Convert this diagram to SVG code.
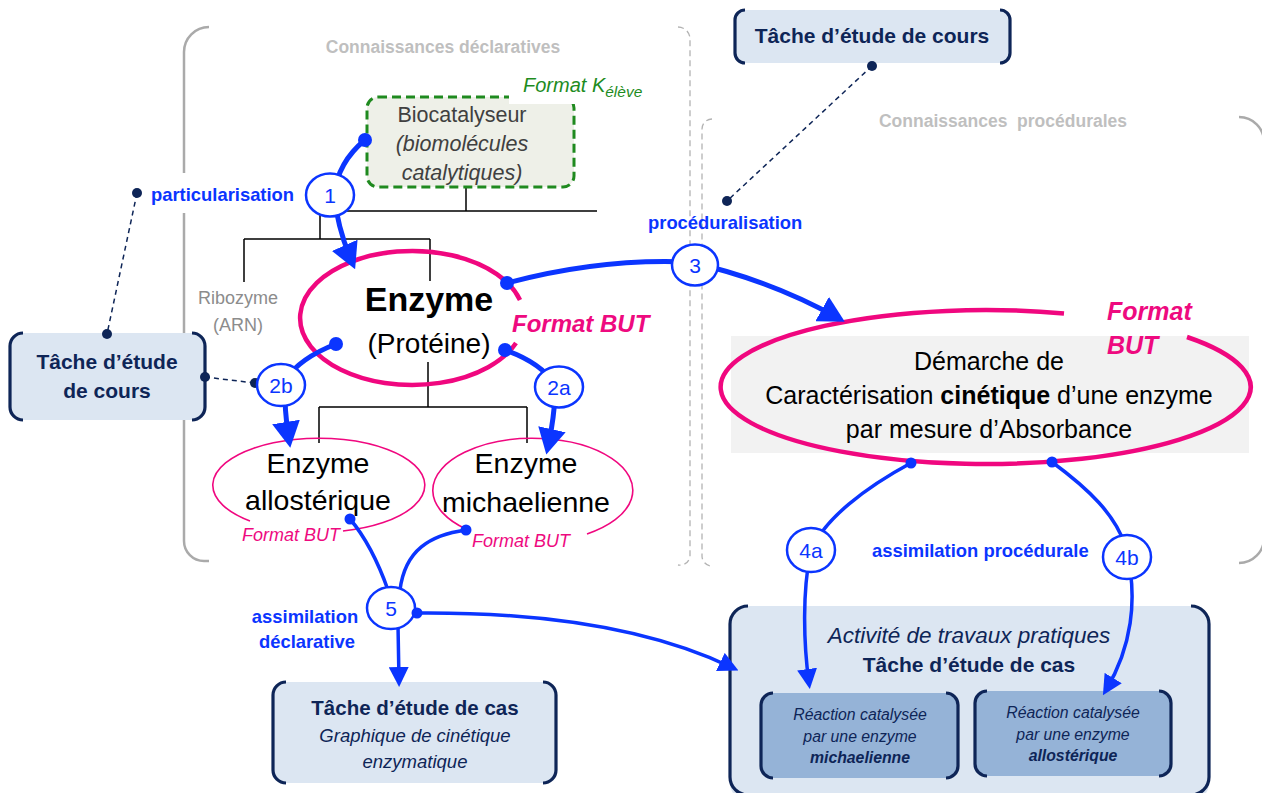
<svg xmlns="http://www.w3.org/2000/svg" width="1262" height="793" viewBox="0 0 1262 793">
<defs>
<style>
text{font-family:"Liberation Sans",Arial,sans-serif}
.bl{fill:#0b35ff;font-weight:bold;font-size:18.4px}
.num{fill:#0b35ff;font-size:21px;text-anchor:middle}
.circ{fill:#fff;stroke:#0b35ff;stroke-width:2.5}
.thick{fill:none;stroke:#0b35ff;stroke-width:5;stroke-linecap:round}
.thin{fill:none;stroke:#0b35ff;stroke-width:3.5;stroke-linecap:round}
.dot{fill:#0b35ff}
.ndot{fill:#0e2557}
.ndash{stroke:#0e2557;stroke-width:1.5;stroke-dasharray:5 4;fill:none}
.tree{stroke:#000;stroke-width:1.5;fill:none}
.gb{stroke:#aaa;stroke-width:2.5;fill:none}
.gd{stroke:#b3b3b3;stroke-width:1.3;stroke-dasharray:6 4;fill:none}
.boxf{fill:#dce6f2}
.boxi{fill:#95b3d7}
.brk{fill:none;stroke:#0e2557;stroke-width:3.2}
.nt{fill:#0e2557;text-anchor:middle}
.pkb{fill:none;stroke:#f0077f;stroke-width:4.5}
.pks{fill:none;stroke:#f0077f;stroke-width:1.6}
.fmt{fill:#ee0a7f;font-style:italic}
.ct{fill:#000;text-anchor:middle}
.gray{fill:#bfbfbf;font-weight:bold;font-size:17.5px;text-anchor:middle;white-space:pre}
</style>
<marker id="ab" markerUnits="userSpaceOnUse" markerWidth="26" markerHeight="28" viewBox="0 0 10 10" refX="7" refY="5" orient="auto" preserveAspectRatio="none"><path d="M0,0 L10,5 L0,10 z" fill="#0b35ff"/></marker>
<marker id="as" markerUnits="userSpaceOnUse" markerWidth="20" markerHeight="20" viewBox="0 0 10 10" refX="7" refY="5" orient="auto" preserveAspectRatio="none"><path d="M0,0 L10,5 L0,10 z" fill="#0b35ff"/></marker>
</defs>
<rect width="1262" height="793" fill="#fff"/>

<g id="brackets">
<path class="gb" d="M209 27 A25 25 0 0 0 184 52 V173 M184 213 V541 A20 20 0 0 0 204 561 H209"/>
<path class="gd" d="M678 27 A12 12 0 0 1 690 39 V556 A10 10 0 0 1 678 565"/>
<path class="gd" d="M712 119 A10 10 0 0 0 702 129 V556 A10 10 0 0 0 713 566"/>
<path class="gb" d="M1239 117 A25 25 0 0 1 1264 142 V538 A25 25 0 0 1 1239 563"/>
<text class="gray" x="443" y="53">Connaissances déclaratives</text>
<text class="gray" x="1003" y="127">Connaissances  procédurales</text>
</g>

<g id="tree">
<path class="tree" d="M466 187 V211 M320 211 H597 M320 211 V239 M244 239 H430 M244 239 V282 M430 239 V281 M428 362 V407 M319 407 H527 M319 407 V443 M527 407 V443"/>
</g>

<g id="biocatalyseur">
<rect x="367" y="97" width="207" height="90" rx="11" fill="#eef0e8" stroke="#1f8a1f" stroke-width="3" stroke-dasharray="9 5"/>
<rect x="509" y="68" width="148" height="36" fill="#fff"/>
<text x="462" y="122" fill="#404040" font-size="21.5" text-anchor="middle">Biocatalyseur</text>
<text x="462" y="151" fill="#404040" font-size="21.5" font-style="italic" text-anchor="middle">(biomolécules</text>
<text x="462" y="180" fill="#404040" font-size="21.5" font-style="italic" text-anchor="middle">catalytiques)</text>
<text x="523" y="92" fill="#1e8c1e" font-size="20" font-style="italic">Format K<tspan font-size="15.5" dy="5">élève</tspan></text>
</g>

<g id="ribozyme">
<text x="238" y="304" fill="#8c8c8c" font-size="18" text-anchor="middle">Ribozyme</text>
<text x="238" y="331" fill="#8c8c8c" font-size="18" text-anchor="middle">(ARN)</text>
</g>

<g id="enzyme">
<path class="pkb" d="M520 300 A112 67 0 1 0 516 343"/>
<text class="ct" x="429" y="311" font-size="34" font-weight="bold">Enzyme</text>
<text class="ct" x="429" y="353" font-size="28">(Protéine)</text>
<text class="fmt" x="512" y="332" font-size="24" font-weight="bold">Format BUT</text>
</g>

<g id="allosterique">
<path class="pks" d="M343 531 A106 47 0 1 0 250 521"/>
<text class="ct" x="318" y="473" font-size="28.5">Enzyme</text>
<text class="ct" x="318" y="510" font-size="28.5">allostérique</text>
<text class="fmt" x="242" y="541" font-size="18">Format BUT</text>
</g>

<g id="michaelienne">
<path class="pks" d="M587 534 A100 52 0 1 0 466 529"/>
<text class="ct" x="526" y="473" font-size="28.5">Enzyme</text>
<text class="ct" x="526" y="512" font-size="28.5">michaelienne</text>
<text class="fmt" x="472" y="547" font-size="18">Format BUT</text>
</g>

<g id="demarche">
<rect x="731" y="336" width="518" height="117" fill="#f2f2f2"/>
<path class="pkb" d="M1064 313.5 A265 77 0 1 0 1187 337"/>
<text class="ct" x="989" y="370" font-size="25">Démarche de</text>
<text class="ct" x="989" y="404" font-size="25">Caractérisation <tspan font-weight="bold">cinétique</tspan> d’une enzyme</text>
<text class="ct" x="989" y="438" font-size="25">par mesure d’Absorbance</text>
<text class="fmt" x="1107" y="320" font-size="25" font-weight="bold">Format</text>
<text class="fmt" x="1107" y="354" font-size="25" font-weight="bold">BUT</text>
</g>

<g id="tache-cours-top">
<rect class="boxf" x="735" y="10" width="275" height="53" rx="10"/>
<path class="brk" d="M745 10 A10 10 0 0 0 735 20 V53 A10 10 0 0 0 745 63 M1000 10 A10 10 0 0 1 1010 20 V53 A10 10 0 0 1 1000 63"/>
<text class="nt" x="872" y="43" font-size="21" font-weight="bold">Tâche d’étude de cours</text>
</g>

<g id="tache-cours-left">
<rect class="boxf" x="10" y="333" width="195" height="87" rx="13"/>
<path class="brk" d="M23 333 A13 13 0 0 0 10 346 V407 A13 13 0 0 0 23 420 M192 333 A13 13 0 0 1 205 346 V407 A13 13 0 0 1 192 420"/>
<text class="nt" x="107" y="369" font-size="21" font-weight="bold">Tâche d’étude</text>
<text class="nt" x="107" y="398" font-size="21" font-weight="bold">de cours</text>
</g>

<g id="tache-cas">
<rect class="boxf" x="273" y="682" width="283" height="101" rx="13"/>
<path class="brk" d="M286 682 A13 13 0 0 0 273 695 V770 A13 13 0 0 0 286 783 M543 682 A13 13 0 0 1 556 695 V770 A13 13 0 0 1 543 783"/>
<text class="nt" x="415" y="715" font-size="20.5" font-weight="bold">Tâche d’étude de cas</text>
<text class="nt" x="415" y="742" font-size="18.5" font-style="italic">Graphique de cinétique</text>
<text class="nt" x="415" y="768" font-size="18.5" font-style="italic">enzymatique</text>
</g>

<g id="activite-tp">
<rect class="boxf" x="730" y="606" width="479" height="195" rx="18"/>
<path class="brk" d="M748 606 A18 18 0 0 0 730 624 V777 A18 18 0 0 0 748 795 M1191 606 A18 18 0 0 1 1209 624 V777 A18 18 0 0 1 1191 795"/>
<text class="nt" x="969" y="643" font-size="22.5" font-style="italic">Activité de travaux pratiques</text>
<text class="nt" x="969" y="672" font-size="21" font-weight="bold">Tâche d’étude de cas</text>
</g>

<g id="reaction-michaelienne">
<rect class="boxi" x="761" y="693" width="197" height="85" rx="12"/>
<path class="brk" d="M773 693 A12 12 0 0 0 761 705 V766 A12 12 0 0 0 773 778 M946 693 A12 12 0 0 1 958 705 V766 A12 12 0 0 1 946 778"/>
<text class="nt" x="860" y="720" font-size="15.8" font-style="italic">Réaction catalysée</text>
<text class="nt" x="860" y="742" font-size="15.8" font-style="italic">par une enzyme</text>
<text class="nt" x="860" y="763" font-size="15.8" font-style="italic" font-weight="bold">michaelienne</text>
</g>

<g id="reaction-allosterique">
<rect class="boxi" x="975" y="691" width="196" height="85" rx="12"/>
<path class="brk" d="M987 691 A12 12 0 0 0 975 703 V764 A12 12 0 0 0 987 776 M1159 691 A12 12 0 0 1 1171 703 V764 A12 12 0 0 1 1159 776"/>
<text class="nt" x="1073" y="718" font-size="15.8" font-style="italic">Réaction catalysée</text>
<text class="nt" x="1073" y="740" font-size="15.8" font-style="italic">par une enzyme</text>
<text class="nt" x="1073" y="761" font-size="15.8" font-style="italic" font-weight="bold">allostérique</text>
</g>

<g id="connectors">
<path class="ndash" d="M872 66 L727 201"/>
<path class="ndash" d="M137 193 L107 334"/>
<path class="ndash" d="M205 377 L255 383"/>
<path class="thick" marker-end="url(#ab)" d="M365 140 Q338 162 334 195 Q338 230 352 262"/>
<path class="thick" marker-end="url(#ab)" d="M507 283 Q600 258 690 262 Q770 280 838 318"/>
<path class="thick" marker-end="url(#ab)" d="M336 344 Q300 358 285 380 Q284 410 289 440"/>
<path class="thick" marker-end="url(#ab)" d="M505 350 Q540 362 556 385 Q554 420 548 447"/>
<path class="thin" marker-end="url(#as)" d="M911 463 C870 485 820 520 810 555 C803 590 803 640 809 683"/>
<path class="thin" marker-end="url(#as)" d="M1052 462 C1090 490 1115 515 1125 545 C1140 600 1130 650 1106 690"/>
<path class="thin" d="M350 519 Q372 545 388 590"/>
<path class="thin" d="M466 530 C430 535 405 550 400 590"/>
<path class="thin" marker-end="url(#as)" d="M398 625 L399 681"/>
<path class="thin" marker-end="url(#as)" d="M417 613 C540 612 650 628 733 668"/>
<circle class="ndot" cx="872" cy="66" r="5"/>
<circle class="ndot" cx="727" cy="201" r="5"/>
<circle class="ndot" cx="137" cy="193" r="5"/>
<circle class="ndot" cx="107" cy="334" r="5"/>
<circle class="ndot" cx="205" cy="377" r="5"/>
<circle class="ndot" cx="255" cy="383" r="5"/>
<circle class="dot" cx="365" cy="140" r="7"/>
<circle class="dot" cx="507" cy="283" r="7"/>
<circle class="dot" cx="336" cy="344" r="7"/>
<circle class="dot" cx="505" cy="350" r="7"/>
<circle class="dot" cx="911" cy="463" r="5.5"/>
<circle class="dot" cx="1052" cy="462" r="5.5"/>
<circle class="dot" cx="350" cy="519" r="5.5"/>
<circle class="dot" cx="466" cy="530" r="5.5"/>
<text class="bl" x="151" y="201">particularisation</text>
<text class="bl" x="648" y="229">procéduralisation</text>
<text class="bl" x="872" y="557">assimilation procédurale</text>
<text class="bl" x="305" y="623" font-size="17" text-anchor="middle">assimilation</text>
<text class="bl" x="307" y="648" font-size="17" text-anchor="middle">déclarative</text>
</g>

<g id="step1"><ellipse class="circ" cx="330" cy="195" rx="24" ry="21.5"/><text class="num" x="330" y="203">1</text></g>
<g id="step3"><ellipse class="circ" cx="695" cy="265" rx="23" ry="20.5"/><text class="num" x="695" y="273">3</text></g>
<g id="step2b"><ellipse class="circ" cx="281" cy="385" rx="24" ry="21"/><text class="num" x="281" y="393">2b</text></g>
<g id="step2a"><ellipse class="circ" cx="559" cy="387" rx="24" ry="20.5"/><text class="num" x="559" y="395">2a</text></g>
<g id="step4a"><ellipse class="circ" cx="811" cy="550" rx="24" ry="22"/><text class="num" x="811" y="558">4a</text></g>
<g id="step4b"><ellipse class="circ" cx="1127" cy="557" rx="24" ry="22"/><text class="num" x="1127" y="565">4b</text></g>
<g id="step5"><ellipse class="circ" cx="391" cy="608" rx="24" ry="21"/><text class="num" x="391" y="616">5</text><circle class="dot" cx="417" cy="613" r="5.5"/></g>
</svg>
